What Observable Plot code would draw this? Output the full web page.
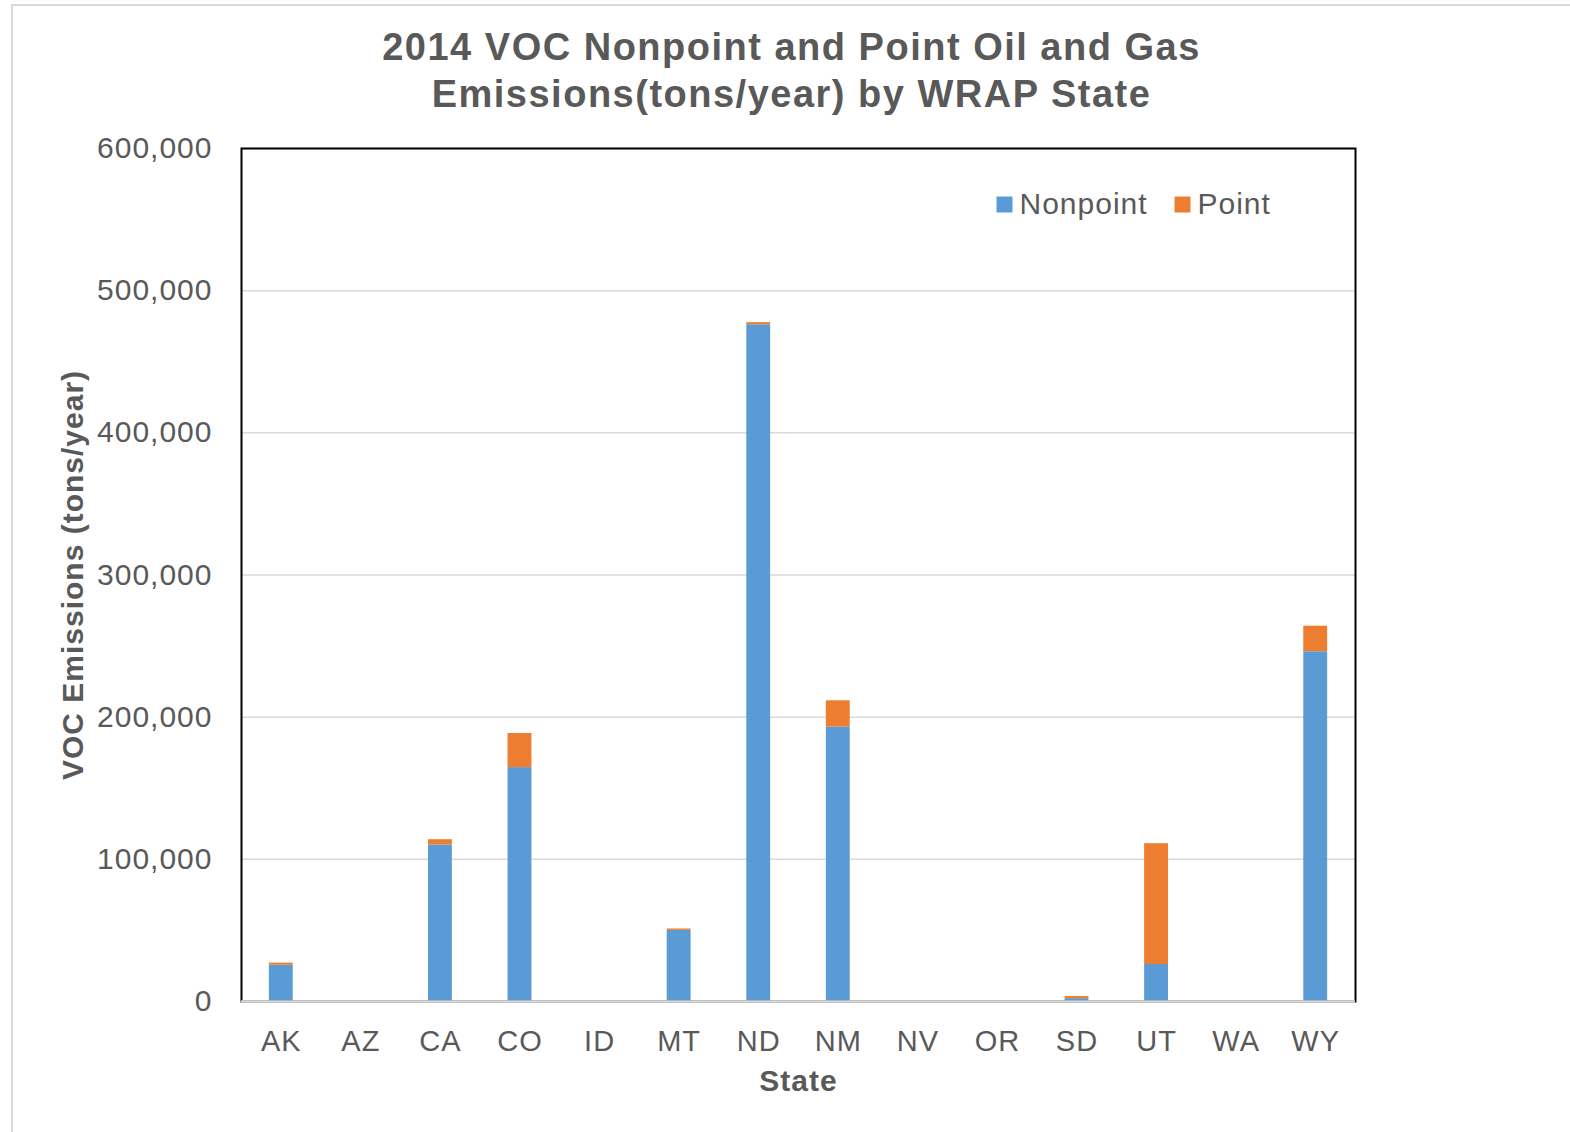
<!DOCTYPE html>
<html>
<head>
<meta charset="utf-8">
<script src="https://cdn.jsdelivr.net/npm/d3@7"></script>
<script src="https://cdn.jsdelivr.net/npm/@observablehq/plot@0.6"></script>
<style>
  html, body { margin: 0; padding: 0; background: white; }
  #wrap { position: relative; width: 1570px; height: 1132px; overflow: hidden; }
  #border { position: absolute; left: 11px; top: 4px; right: -10px; bottom: -10px;
            border-top: 2px solid #d9d9d9; border-left: 2px solid #d9d9d9; pointer-events: none; }
</style>
</head>
<body>
<div id="wrap"><div id="border"></div></div>
<script>
const states = ["AK","AZ","CA","CO","ID","MT","ND","NM","NV","OR","SD","UT","WA","WY"];
const nonpoint = [25500, 0, 110000, 164500, 0, 50000, 476000, 193000, 0, 0, 2000, 26000, 0, 246000];
const point = [1500, 0, 3800, 24000, 0, 1000, 1500, 18500, 0, 0, 1500, 85000, 0, 18000];
const series = ["Nonpoint", "Point"];
const colors = ["#5b9bd5", "#ed7d31"];
const yTicks = [0, 100000, 200000, 300000, 400000, 500000, 600000];
const title = "2014 VOC Nonpoint and Point Oil and Gas\nEmissions(tons/year) by WRAP State";
const xLabel = "State";
const yLabel = "VOC Emissions (tons/year)";

const rows = [];
states.forEach((s, i) => rows.push({state: s, series: series[0], value: nonpoint[i]}));
states.forEach((s, i) => rows.push({state: s, series: series[1], value: point[i]}));

const textColor = "#595959";
const font = "'Liberation Sans', Arial, sans-serif";

const chart = Plot.plot({
  width: 1570,
  height: 1132,
  marginLeft: 241,
  marginRight: 215,
  marginTop: 148,
  marginBottom: 131,
  style: {fontFamily: font, fontSize: "30px", color: textColor, background: "white", letterSpacing: "1px"},
  x: {domain: states, paddingInner: 0.7, paddingOuter: 0.35, round: false},
  y: {domain: [0, 600000]},
  color: {domain: series, range: colors},
  marks: [
    Plot.gridY(yTicks, {stroke: "#d9d9d9", strokeOpacity: 1, strokeWidth: 1.5}),
    Plot.barY(rows, {x: "state", y: "value", fill: "series"}),
    Plot.frame({stroke: "black", strokeWidth: 2}),
    Plot.ruleY([0], {stroke: "#d9d9d9", strokeWidth: 2.5}),
    Plot.axisY(yTicks, {tickSize: 0, tickPadding: 29, tickFormat: d3.format(","), label: null, fill: textColor, fontSize: 30}),
    Plot.axisX({tickSize: 0, tickPadding: 29, label: null, fill: textColor, fontSize: 29}),
    Plot.text([title], {frameAnchor: "top", dx: -7, dy: -80, lineAnchor: "middle", lineHeight: 1.24,
      fontSize: 38, fontWeight: "bold", fill: textColor}),
    Plot.text([xLabel], {frameAnchor: "bottom", dy: 80, lineAnchor: "middle", fontSize: 30, fontWeight: "bold", fill: textColor}),
    Plot.text([yLabel], {frameAnchor: "left", dx: -168, rotate: -90, textAnchor: "middle", lineAnchor: "middle", fontSize: 30, fontWeight: "bold", fill: textColor}),
    // legend
    Plot.dot([series[0]], {frameAnchor: "top-left", dx: 763, dy: 56, symbol: "square", r: 9, fill: colors[0], stroke: null}),
    Plot.text([series[0]], {frameAnchor: "top-left", dx: 778, dy: 56, textAnchor: "start", lineAnchor: "middle", fontSize: 30, fill: textColor, text: (d) => d}),
    Plot.dot([series[1]], {frameAnchor: "top-left", dx: 941, dy: 56, symbol: "square", r: 9, fill: colors[1], stroke: null}),
    Plot.text([series[1]], {frameAnchor: "top-left", dx: 956, dy: 56, textAnchor: "start", lineAnchor: "middle", fontSize: 30, fill: textColor, text: (d) => d})
  ]
});
chart.querySelectorAll("text").forEach((t) => {
  if (t.textContent.startsWith("2014") || t.textContent.startsWith("Emissions(")) {
    t.style.letterSpacing = "1.5px";
  }
});
document.getElementById("wrap").prepend(chart);
</script>
</body>
</html>
